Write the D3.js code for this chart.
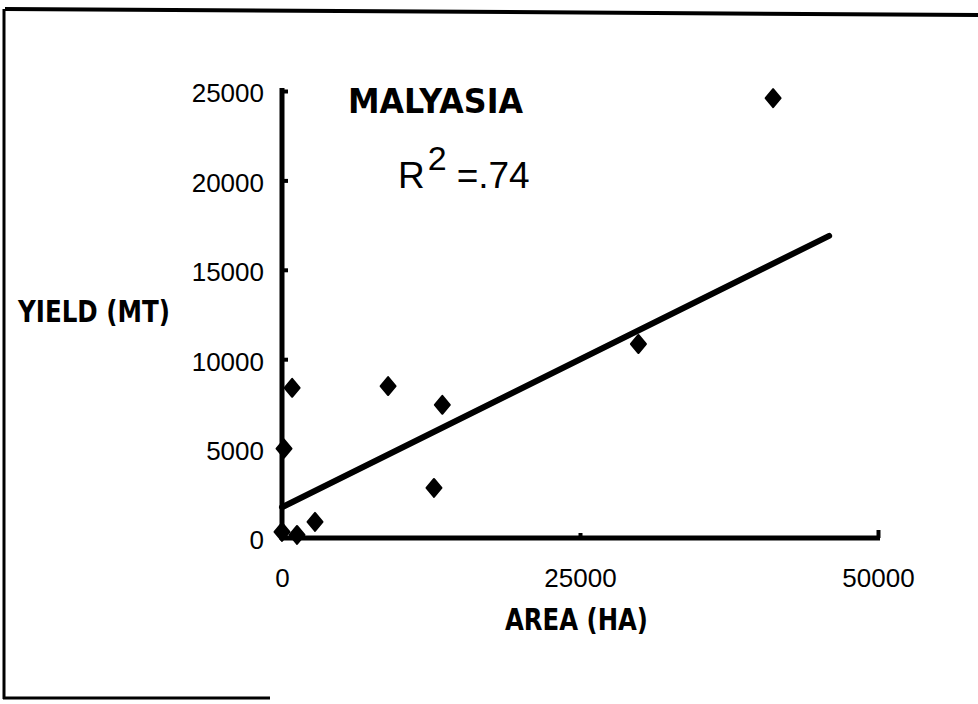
<!DOCTYPE html>
<html>
<head>
<meta charset="utf-8">
<script src="https://cdn.jsdelivr.net/npm/d3@7"></script>
<style>
  html, body { margin: 0; padding: 0; background: #fff; }
  svg { display: block; }
</style>
</head>
<body>
<svg id="chart" width="978" height="704"></svg>
<script>
// Oil palm area vs. yield, Malaysia
const areaHa   = [41200, 850, 170, 8900, 13450, 12750, 29900, 2770, 0, 1260];
const yieldMt  = [24600, 8400, 5000, 8500, 7450, 2800, 10850, 900, 340, 170];

// fitted line end points
const trendArea  = [0, 45900];
const trendYield = [1720, 16900];

const xTicks = [0, 25000, 50000];
const yTicks = [0, 5000, 10000, 15000, 20000, 25000];

const title = "MALYASIA";
const xTitle = "AREA (HA)";
const yTitle = "YIELD (MT)";
const r2Text = "=.74";

const svg = d3.select("#chart");

// page frame (top, left and a piece of the bottom edge)
const frame = svg.append("g").attr("stroke", "#000").attr("fill", "none");
frame.append("line").attr("x1", 5).attr("y1", 9).attr("x2", 978).attr("y2", 15).attr("stroke-width", 4);
frame.append("line").attr("x1", 4).attr("y1", 9).attr("x2", 4).attr("y2", 699).attr("stroke-width", 3);
frame.append("line").attr("x1", 3).attr("y1", 698).attr("x2", 270).attr("y2", 698).attr("stroke-width", 3);

const x = d3.scaleLinear().domain([0, 50000]).range([282, 878]);
const y = d3.scaleLinear().domain([0, 25000]).range([538, 91]);

const tickFont = "'Liberation Sans', Arial, sans-serif";
const boldFont = "'DejaVu Sans', sans-serif";

// y axis
const yAxis = svg.append("g")
  .attr("transform", `translate(${x(0)},0)`)
  .call(d3.axisLeft(y).tickValues(yTicks).tickFormat(d3.format("d"))
        .tickSizeInner(-6).tickSizeOuter(0).tickPadding(18));
yAxis.select(".domain").attr("stroke-width", 5).attr("d", `M0,${y(0)+2}V88`);
yAxis.selectAll(".tick line").attr("stroke-width", 4).filter(d => d === 0).remove();
yAxis.selectAll(".tick text")
  .attr("font-family", tickFont).attr("font-size", 26).attr("fill", "#000")
  .attr("dy", "0.42em");

// x axis
const xAxis = svg.append("g")
  .attr("transform", `translate(0,${y(0)})`)
  .call(d3.axisBottom(x).tickValues(xTicks).tickFormat(d3.format("d"))
        .tickSizeInner(-6).tickSizeOuter(0).tickPadding(31));
xAxis.select(".domain").attr("stroke-width", 5).attr("d", `M${x(0)-2},0H${x(50000)+2}`);
xAxis.selectAll(".tick line").attr("stroke-width", 4)
  .attr("y2", d => d === 50000 ? -8 : (d === 25000 ? -5 : 0));
xAxis.selectAll(".tick text")
  .attr("font-family", tickFont).attr("font-size", 26).attr("fill", "#000");

// fitted line
svg.append("line")
  .attr("x1", x(trendArea[0])).attr("y1", y(trendYield[0]))
  .attr("x2", x(trendArea[1])).attr("y2", y(trendYield[1]))
  .attr("stroke", "#000").attr("stroke-width", 6).attr("stroke-linecap", "round");

// observations as filled diamonds
const pts = areaHa.map((a, i) => ({ a, v: yieldMt[i] }));
svg.append("g").selectAll("path").data(pts).join("path")
  .attr("transform", d => `translate(${x(d.a)},${y(d.v)})`)
  .attr("d", "M0,-9L7.5,0L0,9L-7.5,0Z")
  .attr("fill", "#000").attr("stroke", "#000")
  .attr("stroke-width", 2).attr("stroke-linejoin", "round");

// titles (bold, narrow lettering)
function boldLabel(txt, xPos, yPos, size, width, anchor) {
  return svg.append("text").text(txt)
    .attr("x", xPos).attr("y", yPos).attr("text-anchor", anchor)
    .attr("font-family", boldFont).attr("font-weight", "bold")
    .attr("font-size", size).attr("fill", "#000")
    .attr("textLength", width).attr("lengthAdjust", "spacingAndGlyphs");
}
boldLabel(title, 348, 113, 34, 175, "start");
boldLabel(xTitle, 505, 630, 31, 143, "start");
boldLabel(yTitle, 18, 322, 31, 152, "start");

const r2 = svg.append("text").attr("x", 398).attr("y", 188)
  .attr("font-family", tickFont).attr("font-size", 37).attr("fill", "#000");
r2.append("tspan").text("R");
r2.append("tspan").text("2").attr("font-size", 34).attr("dx", 3).attr("dy", -18);
r2.append("tspan").text(r2Text).attr("dx", 10).attr("dy", 18);
</script>
</body>
</html>
